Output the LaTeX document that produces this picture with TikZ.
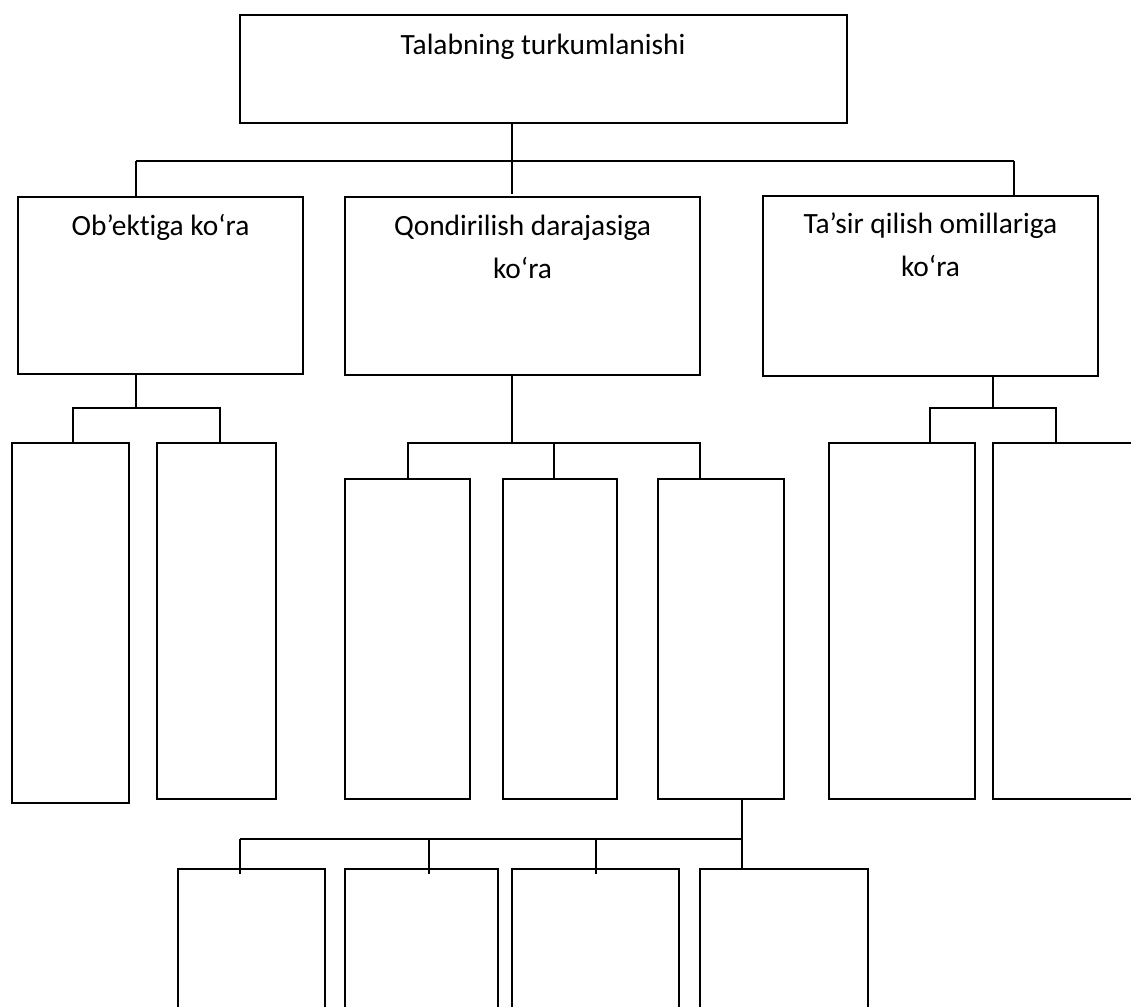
\documentclass[tikz,border=0pt]{standalone}
\usepackage{fontspec}
\setmainfont{Carlito}[Ligatures={NoCommon}]
\newcommand{\mybox}[5]{\node[boxst, minimum width={(#4-#2)*1pt}, minimum height={(#5-#3)*1pt}] (#1) at ({(#2+#4)/2},{(#3+#5)/2}) {};}
\begin{document}
\begin{tikzpicture}[x=1pt,y=-1pt,
  boxst/.style={draw=black, line width=1.4pt, inner sep=0pt, outer sep=0pt, fill=none},
  lbl/.style={font=\fontsize{29.4}{43}\selectfont, inner sep=0pt, anchor=base},
  conn/.style={draw=black, line width=1.4pt}]
\clip (0,0) rectangle (1131,1006);
\fill[white] (0,0) rectangle (1131,1006);
% level 1
\mybox{top}{240}{15}{847}{123}
\node[lbl] (tTop) at (543,55) {Talabning turkumlanishi};
% level 2
\mybox{A}{18}{197}{303}{374}
\mybox{B}{345}{197}{700}{375}
\mybox{C}{763}{196}{1098}{376}
\node[lbl] (tA) at (160.5,235) {Ob’ektiga ko‘ra};
\node[lbl] (tB1) at (522.5,235) {Qondirilish darajasiga};
\node[lbl] (tB2) at (522.5,278) {ko‘ra};
\node[lbl] (tC1) at (930.5,233) {Ta’sir qilish omillariga};
\node[lbl] (tC2) at (930.5,276) {ko‘ra};
% level 3
\mybox{A1}{12}{443}{129}{803}
\mybox{A2}{157}{443}{276}{799}
\mybox{B1}{345}{479}{470}{799}
\mybox{B2}{503}{479}{617}{799}
\mybox{B3}{658}{479}{784}{799}
\mybox{C1}{829}{443}{975}{799}
\mybox{C2}{993}{443}{1160}{799}
% level 4 (open at bottom)
\mybox{D1}{178}{869}{325}{1040}
\mybox{D2}{345}{869}{498}{1040}
\mybox{D3}{512}{869}{679}{1040}
\mybox{D4}{700}{869}{868}{1040}
% junction coordinates
\coordinate (j1) at (512,161);
\coordinate (h1L) at (136,161);
\coordinate (h1R) at (1014,161);
\coordinate (h2L) at (73,408);
\coordinate (h2R) at (220,408);
\coordinate (j2) at (512,443);
\coordinate (h3L) at (408,443);
\coordinate (h3M) at (554,443);
\coordinate (h3R) at (700,443);
\coordinate (j3) at (993,408);
\coordinate (h4L) at (930,408);
\coordinate (h4R) at (1056,408);
\coordinate (j4) at (742,839);
\coordinate (h5L) at (240,839);
\coordinate (h5a) at (429,839);
\coordinate (h5b) at (596,839);
% connectors level 1 -> 2
\draw[conn] (top.south -| j1) -- ([yshift=3pt]B.north -| j1);
\draw[conn] (h1L) -- (h1R);
\draw[conn] (h1L) -- (h1L |- A.north);
\draw[conn] (h1R) -- (h1R |- C.north);
% A -> A1, A2
\draw[conn] (A.south -| h1L) -- (h1L |- h2L);
\draw[conn] (h2L |- A1.north) -- (h2L) -- (h2R) -- (h2R |- A2.north);
% B -> B1..B3
\draw[conn] (B.south -| j2) -- (j2);
\draw[conn] (h3L |- B1.north) -- (h3L) -- (h3R) -- (h3R |- B3.north);
\draw[conn] (h3M) -- (h3M |- B2.north);
% C -> C1, C2
\draw[conn] (C.south -| j3) -- (j3);
\draw[conn] (h4L |- C1.north) -- (h4L) -- (h4R) -- (h4R |- C2.north);
% B3 -> D1..D4
\draw[conn] (B3.south -| j4) -- (j4 |- D4.north);
\draw[conn] (h5L) -- (j4);
\draw[conn] (h5L) -- ([yshift=-5pt]h5L |- D1.north);
\draw[conn] (h5a) -- ([yshift=-5pt]h5a |- D2.north);
\draw[conn] (h5b) -- ([yshift=-5pt]h5b |- D3.north);
\end{tikzpicture}
\end{document}
